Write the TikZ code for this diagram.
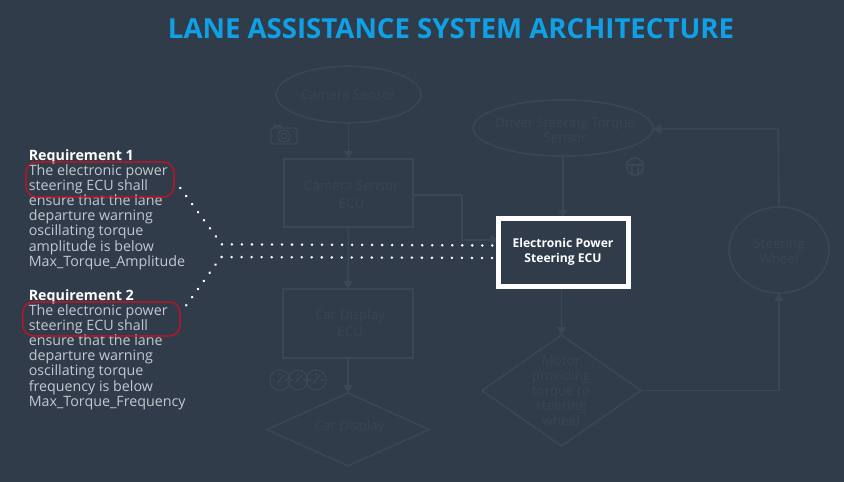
\documentclass[tikz,border=0pt]{standalone}
\usepackage{fontspec}
\setmainfont{Open Sans}
\usetikzlibrary{shapes.geometric,arrows.meta}
\definecolor{bgc}{HTML}{303C4A}
\definecolor{faintline}{HTML}{3A4755}
\definecolor{fainttext}{HTML}{384553}
\definecolor{titleblue}{HTML}{10A0E6}
\definecolor{reqgrey}{HTML}{C3C9D0}
\definecolor{redmark}{HTML}{DC0A1E}
\tikzset{
  x=0.75pt,y=-0.75pt,
  flowline/.style={draw=faintline,line width=1.1pt},
  flowarrow/.style={flowline,-{Triangle[length=6pt,width=6.5pt]}},
  fshape/.style={draw=faintline,line width=1.1pt,inner sep=0pt,outer sep=0pt},
  fellipse/.style={fshape,ellipse},
  fbox/.style={fshape,rectangle},
  fdiamond/.style={fshape,diamond},
  ftext/.style={text=fainttext,align=center,font=\fontsize{10}{11.3}\selectfont},
  ftextwide/.style={text=fainttext,align=center,font=\fontsize{10}{13.2}\selectfont},
  reqtext/.style={anchor=north west,align=left,inner sep=0pt,text=reqgrey,font=\fontsize{10.7}{11.3}\selectfont},
  redbox/.style={draw=redmark,line width=0.85pt,rounded corners=8pt},
  dotline/.style={draw=white,line width=2.1pt,line cap=round,dash pattern=on 0.01pt off 7.5pt},
  iconline/.style={draw=faintline,line width=0.9pt},
}
\begin{document}
\begin{tikzpicture}
\useasboundingbox (0,0) rectangle (844,482);
\fill[bgc] (0,0) rectangle (844,482);

\node[text=titleblue,font=\bfseries\fontsize{20.7}{24}\selectfont,inner sep=0pt] (title) at (451,29) {LANE ASSISTANCE SYSTEM ARCHITECTURE};

% faded flowchart
\node[fellipse,minimum width=108.5pt,minimum height=42.5pt] (cam) at (348.5,94.5) {};
\node[ftext] (camt) at (348.5,94.7) {Camera Sensor};
\node[fbox,minimum width=96.75pt,minimum height=51pt] (camecu) at (348.5,193) {};
\node[ftextwide] (camecut) at (351.5,195) {Camera Sensor\\ECU};
\node[fbox,minimum width=97.5pt,minimum height=51.75pt] (carecu) at (348,323.5) {};
\node[ftextwide] (carecut) at (350,323) {Car Display\\ECU};
\node[fdiamond,minimum width=121.5pt,minimum height=54.75pt] (cardisp) at (348,429.5) {};
\node[ftext] (cardispt) at (349.5,427.5) {Car Display};
\node[fellipse,minimum width=135pt,minimum height=42pt] (driver) at (563,128) {};
\node[ftext] (drivert) at (565,130) {Driver Steering Torque\\Sensor};
\node[fellipse,minimum width=75pt,minimum height=64.5pt] (wheel) at (779,250) {};
\node[ftext] (wheelt) at (779,251) {Steering\\Wheel};
\node[fdiamond,minimum width=119.25pt,minimum height=83.25pt] (motor) at (561.5,390.5) {};
\node[ftext] (motort) at (561,390.5) {Motor\\providing\\torque to\\steering\\wheel};

\coordinate (j1) at (413,195);
\coordinate (j2) at (462,240);
\coordinate (j3) at (778,129);
\draw[flowarrow] (cam.south) -- (camecu.north);
\draw[flowarrow] (camecu.south) -- (carecu.north);
\draw[flowarrow] (carecu.south) -- (cardisp.north);
\draw[flowarrow] (driver.south) -- (driver.south |- 0,218);
\draw[flowarrow] (motor.north |- 0,289) -- (motor.north);
\draw[flowarrow] (motor.east) -| (wheel.south);
\draw[flowarrow] (wheel.north) -- (j3) -- (driver.east |- j3);
\draw[flowarrow] (j1) -| (j2) -- (j2 -| 499,0);

% icons
\draw[iconline,rounded corners=1.5pt] (271,128) rectangle (297,144);
\draw[iconline] (275,128) -- (275,126) -- (280,126) -- (280,128);
\draw[iconline] (284,136) circle (6);
\draw[iconline] (284,136) circle (3);
\fill[faintline] (293,131) circle (1);
\foreach \cx in {280,298,316}{
  \draw[iconline] (\cx,380) circle (10);
  \draw[iconline] (\cx-3,383) -- (\cx+4,375);
  \draw[iconline] (\cx-7,380) -- (\cx-5,380);
  \draw[iconline] (\cx+5,380) -- (\cx+7,380);
  \draw[iconline] (\cx,373) -- (\cx,375);
}
\draw[iconline,line width=1.4pt] (635,166.5) circle (8.5);
\draw[iconline,line width=1.4pt] (627,165) -- (643,165);
\draw[iconline,line width=1.4pt] (632,167) -- (632,174);
\draw[iconline,line width=1.4pt] (638,167) -- (638,174);

% highlighted ECU
\node[draw=white,fill=bgc,line width=4.1pt,minimum width=97.5pt,minimum height=51pt,inner sep=0pt,outer sep=0pt,rectangle] (eps) at (563.5,252.5) {};
\node[text=white,align=center,font=\bfseries\fontsize{9.1}{11.3}\selectfont] (epst) at (563,251.5) {Electronic Power\\Steering ECU};

% requirements
\node[reqtext] (req1) at (28.5,149.5) {{\color{white}\bfseries Requirement 1}\\The electronic power\\steering ECU shall\\ensure that the lane\\departure warning\\oscillating torque\\amplitude is below\\Max\_Torque\_Amplitude};
\node[reqtext] (req2) at (28.5,289.5) {{\color{white}\bfseries Requirement 2}\\The electronic power\\steering ECU shall\\ensure that the lane\\departure warning\\oscillating torque\\frequency is below\\Max\_Torque\_Frequency};
\draw[redbox] (26,162) rectangle (174,197);
\draw[redbox] (22.7,302) rectangle (180,336);

% dotted links
\coordinate (a1) at (180.3,188);
\coordinate (a2) at (221.7,244.3);
\coordinate (a3) at (496,245.5);
\coordinate (b1) at (186.3,305.3);
\coordinate (b2) at (221,257);
\coordinate (b3) at (496,258);
\draw[dotline] (a1) -- (a2) -- (a3);
\draw[dotline] (b1) -- (b2) -- (b3);
\end{tikzpicture}
\end{document}
